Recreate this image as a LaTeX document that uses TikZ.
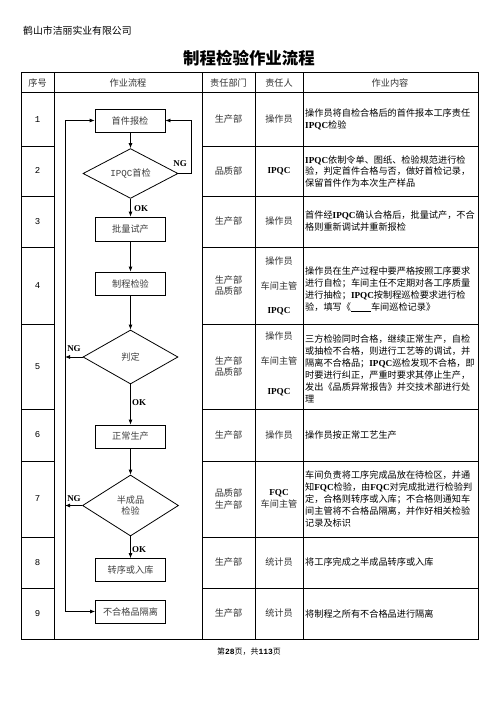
\documentclass[tikz,border=0pt]{standalone}
\usepackage{fontspec}
\setmainfont{Noto Sans CJK SC}
\newfontfamily\latf{Liberation Serif}
\newfontfamily\monof{Liberation Mono}
\usetikzlibrary{shapes.geometric,arrows.meta}
\newcommand\myfs{\fontsize{9.2}{12}\selectfont}
\newcommand\bl[1]{{\latf\bfseries #1}}
\begin{document}
\begin{tikzpicture}[x=1bp,y=-1bp,
  tline/.style={line width=1bp},
  fbox/.style={draw, line width=0.8bp, minimum width=70bp, minimum height=23bp, inner sep=0pt, font=\myfs, text=black!75},
  dia/.style={draw, diamond, line width=0.8bp, inner sep=0pt, font=\myfs, text=black!75, align=center},
  arr/.style={line width=0.8bp, -{Latex[length=5bp,width=4bp]}},
  cell/.style={inner sep=0pt, font=\myfs, text=black!80, align=center},
  cont/.style={inner sep=0pt, anchor=west, font=\myfs, align=left},
  num/.style={inner sep=0pt, font=\monof\fontsize{9}{11}\selectfont},
  lab/.style={inner sep=0pt, font=\latf\bfseries\fontsize{9}{11}\selectfont}]
\useasboundingbox (0,0) rectangle (496,702);
\fill[white] (0,0) rectangle (496,702);

% heading
\node[inner sep=0pt, anchor=west, font=\fontsize{9.9}{12}\selectfont] (co) at (23,31) {鹤山市洁丽实业有限公司};
\node[inner sep=0pt, font=\fontsize{16.5}{20}\selectfont\bfseries] (title) at (249,58) {制程检验作业流程};

% table frame
\draw[tline] (21,73) rectangle (478,639);
\draw[tline] (21,93) -- (478,93);
\foreach \x in {54,202,255,303} \draw[tline] (\x,73) -- (\x,639);
\foreach \y in {146,196,247,324,409,461,537,588} {
  \draw[tline] (21,\y) -- (54,\y);
  \draw[tline] (202,\y) -- (478,\y);
}

% header
\node[cell] (h1) at (37.5,83) {序号};
\node[cell] (h2) at (128,83) {作业流程};
\node[cell] (h3) at (228.5,83) {责任部门};
\node[cell] (h4) at (279,83) {责任人};
\node[cell] (h5) at (390,83) {作业内容};

% numbers
\node[num] (n1) at (37.5,119.5) {1};
\node[num] (n2) at (37.5,171) {2};
\node[num] (n3) at (37.5,221.5) {3};
\node[num] (n4) at (37.5,285.5) {4};
\node[num] (n5) at (37.5,366.5) {5};
\node[num] (n6) at (37.5,435) {6};
\node[num] (n7) at (37.5,499) {7};
\node[num] (n8) at (37.5,562.5) {8};
\node[num] (n9) at (37.5,613.5) {9};

% departments
\node[cell] (d1c) at (228.5,119.5) {生产部};
\node[cell] (d2c) at (228.5,171) {品质部};
\node[cell] (d3c) at (228.5,221.5) {生产部};
\node[cell] (d4c) at (228.5,285.5) {生产部\\品质部};
\node[cell] (d5c) at (228.5,366.5) {生产部\\品质部};
\node[cell] (d6c) at (228.5,435) {生产部};
\node[cell] (d7c) at (228.5,499) {品质部\\生产部};
\node[cell] (d8c) at (228.5,562.5) {生产部};
\node[cell] (d9c) at (228.5,613.5) {生产部};

% persons
\node[cell] (p1) at (279,119.5) {操作员};
\node[cell, text=black] (p2) at (279,171) {\bl{IPQC}};
\node[cell] (p3) at (279,221.5) {操作员};
\node[cell] (p4a) at (279,261) {操作员};
\node[cell] (p4b) at (279,285.5) {车间主管};
\node[cell, text=black] (p4c) at (279,311) {\bl{IPQC}};
\node[cell] (p5a) at (279,336) {操作员};
\node[cell] (p5b) at (279,361) {车间主管};
\node[cell, text=black] (p5c) at (279,392) {\bl{IPQC}};
\node[cell] (p6) at (279,435) {操作员};
\node[cell] (p7) at (279,499) {{\color{black}\bl{FQC}}\\车间主管};
\node[cell] (p8) at (279,562.5) {统计员};
\node[cell] (p9) at (279,613.5) {统计员};

% contents
\node[cont] (c1) at (305,119.5) {操作员将自检合格后的首件报本工序责任\\\bl{IPQC}检验};
\node[cont] (c2) at (305,171.5) {\bl{IPQC}依制令单、图纸、检验规范进行检\\验，判定首件合格与否，做好首检记录，\\保留首件作为本次生产样品};
\node[cont] (c3) at (305,221.5) {首件经\bl{IPQC}确认合格后，批量试产，不合\\格则重新调试并重新报检};
\node[cont] (c4) at (305,289) {操作员在生产过程中要严格按照工序要求\\进行自检；车间主任不定期对各工序质量\\进行抽检；\bl{IPQC}按制程巡检要求进行检\\验，填写《\rule[-1.5bp]{20bp}{0.7bp}车间巡检记录》};
\node[cont] (c5) at (305,369) {三方检验同时合格，继续正常生产，自检\\或抽检不合格，则进行工艺等的调试，并\\隔离不合格品；\bl{IPQC}巡检发现不合格，即\\时要进行纠正，严重时要求其停止生产，\\发出《品质异常报告》并交技术部进行处\\理};
\node[cont] (c6) at (305,435) {操作员按正常工艺生产};
\node[cont] (c7) at (305,499) {车间负责将工序完成品放在待检区，并通\\知\bl{FQC}检验，由\bl{FQC}对完成批进行检验判\\定，合格则转序或入库；不合格则通知车\\间主管将不合格品隔离，并作好相关检验\\记录及标识};
\node[cont] (c8) at (305,562.5) {将工序完成之半成品转序或入库};
\node[cont] (c9) at (305,613.5) {将制程之所有不合格品进行隔离};

% flowchart
\node[fbox] (first) at (130,120.5) {首件报检};
\node[dia, minimum width=95bp, minimum height=41bp] (q1) at (130.5,173.5) {{\monof IPQC}首检};
\node[fbox, minimum height=24bp] (batch) at (130.5,229) {批量试产};
\node[fbox] (proc) at (130.5,283.5) {制程检验};
\node[dia, minimum width=95bp, minimum height=54bp] (q2) at (130.5,357) {判定};
\node[fbox] (normal) at (130.5,436.5) {正常生产};
\node[dia, minimum width=96bp, minimum height=61bp] (q3) at (130.5,505.5) {半成品\\检验};
\node[fbox] (trans) at (130.5,570) {转序或入库};
\node[fbox] (bad) at (130.5,611.5) {不合格品隔离};

\coordinate (lt) at (65,120.5);
\coordinate (lb) at (65,611.5);

\draw[arr] (first.south -| q1.north) -- (q1.north);
\draw[arr] (q1.east) -- ++(13,0) |- (first.east);
\draw[arr] (q1.south) -- (batch.north);
\draw[arr] (batch.south) -- (proc.north);
\draw[arr] (proc.south) -- (q2.north);
\draw[arr] (q2.south) -- (normal.north);
\draw[arr] (normal.south) -- (q3.north);
\draw[arr] (q3.south) -- (trans.north);
\draw[arr] (q2.west) -- (q2.west -| lt);
\draw[arr] (q3.west) -- (q3.west -| lt);
\draw[arr] (lt) -- (first.west);
\draw[arr] (lt) -- (lb) -- (bad.west);

\node[lab] (ng1) at (180,164) {NG};
\node[lab] (ok1) at (141,209) {OK};
\node[lab] (ng2) at (74,349) {NG};
\node[lab] (ok2) at (139,403) {OK};
\node[lab] (ng3) at (74,499) {NG};
\node[lab] (ok3) at (139,550) {OK};

% footer
\node[inner sep=0pt, font=\fontsize{8}{10}\selectfont] (foot) at (249,652) {第{\monof\bfseries 28}页，共{\monof\bfseries 113}页};
\end{tikzpicture}
\end{document}
